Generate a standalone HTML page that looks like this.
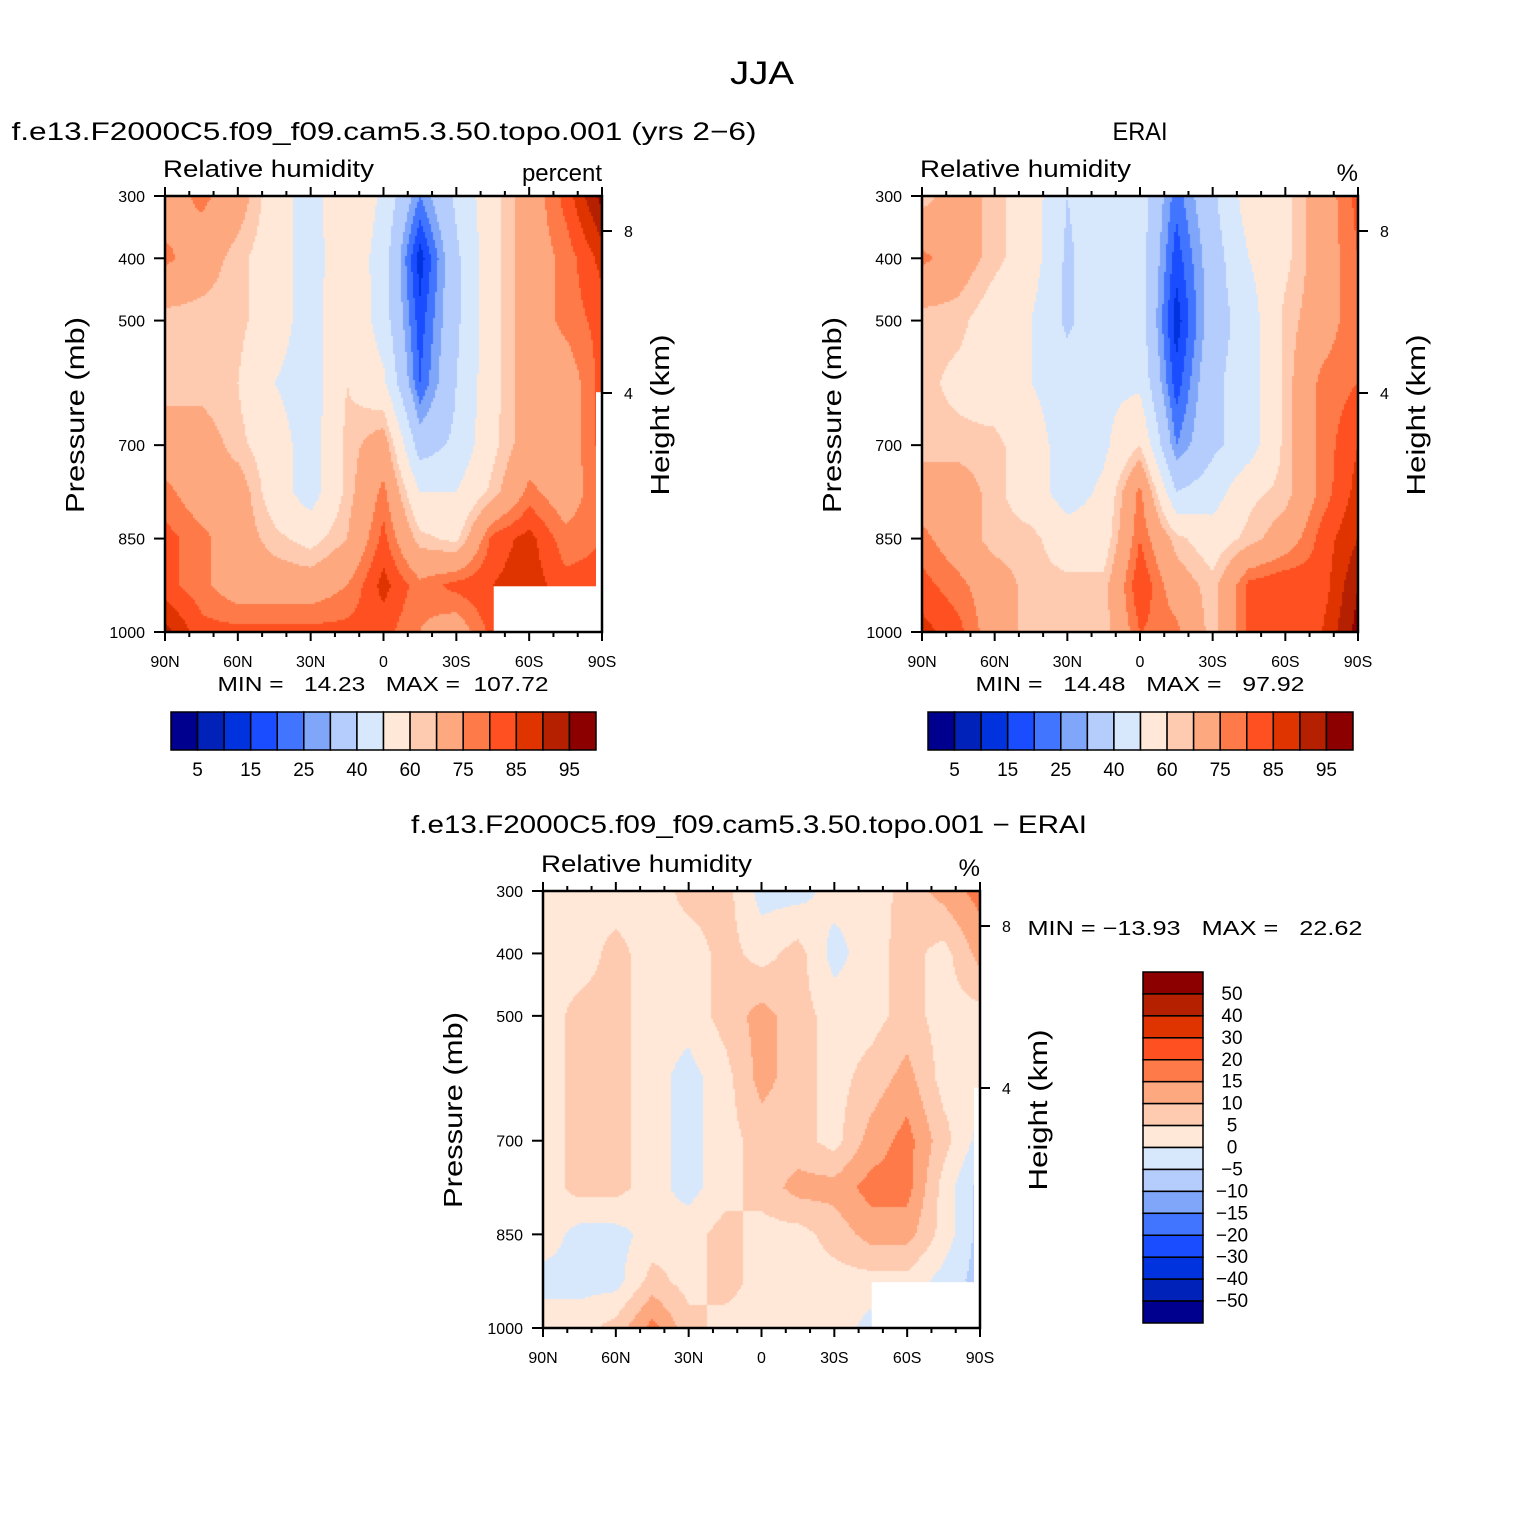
<!DOCTYPE html>
<html><head><meta charset="utf-8">
<style>
body{margin:0;background:#fff;}
#wrap{position:relative;width:1524px;height:1524px;overflow:hidden;font-family:"Liberation Sans","DejaVu Sans",sans-serif;}
canvas{position:absolute;}
svg{position:absolute;left:0;top:0;}
</style></head>
<body>
<div id="wrap">
<canvas id="c1" style="left:165px;top:196px" width="437" height="436"></canvas>
<canvas id="c2" style="left:922px;top:196px" width="436" height="436"></canvas>
<canvas id="c3" style="left:543px;top:891px" width="437" height="437"></canvas>
<svg id="svg" width="1524" height="1524"></svg>
</div>
<script>
// ---- data ----
const latLabels = ["90N","60N","30N","0","30S","60S","90S"];
const lats = [90,75,60,45,30,15,0,-15,-30,-45,-60,-75,-90];
const pLevels = [300,400,500,600,700,775,850,925,1000];
const pTicks = [300,400,500,700,850,1000];
const rhLevels = [5,10,15,20,25,30,40,50,60,65,75,80,85,90,95];
const rhTickLabels = ["5","15","25","40","60","75","85","95"];
const diffLevels = [-50,-40,-30,-20,-15,-10,-5,0,5,10,15,20,30,40,50];
const colors = ["#00008f","#0022b8","#0033dd","#1a4dff","#4275ff","#80a6fa","#b4cdfc","#d8e8fc","#ffe8d8","#fecab0","#fea880","#fe7a48","#fe5020","#e03400","#b42000","#8c0000"];
const modelRH = [
[70,77,70,55,45,60,48,25,42,57,70,82,97],
[77,70,62,55,45,58,45,12,38,57,70,77,87],
[62,62,62,55,45,60,45,17,38,57,70,77,82],
[62,62,60,50,45,60,52,20,40,57,70,70,82],
[70,70,62,55,45,62,70,35,42,58,70,70,82],
[77,70,70,55,45,62,77,50,50,62,77,70,80],
[82,77,70,62,57,65,82,62,58,82,87,77,80],
[82,77,70,70,70,75,87,77,82,85,88,82,82],
[92,82,82,82,82,82,82,75,70,82,82,82,82]];
const eraiRH = [
[62,70,62,55,40,48,45,22,38,55,58,70,82],
[77,70,62,55,38,48,45,17,35,50,58,70,80],
[62,62,55,50,38,48,45,12,35,45,62,70,80],
[62,58,55,50,45,48,48,17,38,45,62,77,80],
[62,62,62,55,45,48,60,25,38,45,62,77,85],
[70,70,62,55,45,52,77,40,45,58,62,77,87],
[77,70,62,62,55,55,80,62,55,62,70,82,90],
[82,77,70,62,62,62,85,70,62,82,85,82,95],
[87,82,70,62,62,62,80,77,62,82,82,85,97]];
const diffRH = [
[3,3,2,2,7,7,-2,-2,2,2,7,12,17],
[2,2,7,2,2,7,3,7,-2,3,7,3,12],
[2,7,7,2,2,7,12,7,3,3,7,3,3],
[2,7,7,2,-2,3,12,7,3,7,12,3,3],
[2,7,7,2,-2,3,7,7,3,12,17,7,-2],
[2,7,7,2,-2,3,7,12,12,17,17,3,-7],
[3,-2,-2,2,3,7,3,3,7,12,12,3,-7],
[-2,-2,-2,7,3,7,3,3,3,3,3,-2,-7],
[3,3,7,17,7,3,3,3,3,-2,3,3,3]];

// ---- helpers ----
const NS="http://www.w3.org/2000/svg";
const svg=document.getElementById('svg');
function el(tag,attrs,txt){const e=document.createElementNS(NS,tag);for(const k in attrs)e.setAttribute(k,attrs[k]);if(txt!==undefined)e.textContent=txt;svg.appendChild(e);return e;}
function colorFor(v,levels){let i=0;while(i<levels.length&&v>=levels[i])i++;return colors[i];}
function sample(grid,lat,p){
  let j=0;while(j<lats.length-2&&lat<lats[j+1])j++;
  const tx=(lats[j]-lat)/(lats[j]-lats[j+1]);
  let i=0;while(i<pLevels.length-2&&p>pLevels[i+1])i++;
  const ty=(p-pLevels[i])/(pLevels[i+1]-pLevels[i]);
  const a=grid[i][j],b=grid[i][j+1],c=grid[i+1][j],d=grid[i+1][j+1];
  return (a*(1-tx)+b*tx)*(1-ty)+(c*(1-tx)+d*tx)*ty;
}
function drawField(id,grid,levels,w,h){
  const ctx=document.getElementById(id).getContext('2d');
  const s=2;
  for(let y=0;y<h;y+=s){for(let x=0;x<w;x+=s){
    const lat=90-180*(x+s/2)/w, p=300+700*(y+s/2)/h;
    ctx.fillStyle=colorFor(sample(grid,lat,p),levels);ctx.fillRect(x,y,s,s);}}
}
drawField('c1',modelRH,rhLevels,437,436);
drawField('c2',eraiRH,rhLevels,436,436);
drawField('c3',diffRH,diffLevels,437,437);

function panel(x0,y0,w,h,unit,pfx){
  const X=lat=>x0+(90-lat)/180*w, Y=p=>y0+(p-300)/700*h;
  if(pfx!=='erai'){
    let r=el('rect',{x:X(-45)+1,y:Y(925)+1,width:X(-90)-X(-45)-2,height:Y(1000)-Y(925)-2,fill:'#fff'});
    
    r=el('rect',{x:x0+w-6,y:Y(615),width:6,height:Y(1000)-Y(615),fill:'#fff'});
    
  }
  const f=el('rect',{x:x0,y:y0,width:w,height:h,fill:'none',stroke:'#000','stroke-width':2.5});
  
  for(let lat=90;lat>=-90;lat-=10){
    const major=lat%30===0, L=major?9:5, x=X(lat);
    el('line',{x1:x,y1:y0,x2:x,y2:y0-L,stroke:'#000','stroke-width':2});
    el('line',{x1:x,y1:y0+h,x2:x,y2:y0+h+L,stroke:'#000','stroke-width':2});
  }
  latLabels.forEach((t,i)=>{const e=el('text',{x:X(90-30*i),y:y0+h+35,'font-size':16,'text-anchor':'middle'},t);
    });
  pTicks.forEach(p=>{const y=Y(p);el('line',{x1:x0,y1:y,x2:x0-11,y2:y,stroke:'#000','stroke-width':2});
    const e=el('text',{x:x0-20,y:y+6,'font-size':16,'text-anchor':'end'},String(p));
    });
  [[8,35],[4,197]].forEach(([k,dy])=>{el('line',{x1:x0+w,y1:y0+dy,x2:x0+w+10,y2:y0+dy,stroke:'#000','stroke-width':2});
    const e=el('text',{x:x0+w+22,y:y0+dy+6,'font-size':16},String(k));
    });
  let e=el('text',{x:x0-2,y:y0-19,'font-size':24,textLength:211,lengthAdjust:'spacingAndGlyphs'},'Relative humidity');
  
  e=el('text',{x:x0+w,y:y0-15,'font-size':24,'text-anchor':'end'},unit);
  
  e=el('text',{x:0,y:0,'font-size':26,'text-anchor':'middle',textLength:196,lengthAdjust:'spacingAndGlyphs',transform:`translate(${x0-81},${y0+219}) rotate(-90)`},'Pressure (mb)');
  
  e=el('text',{x:0,y:0,'font-size':26,'text-anchor':'middle',textLength:161,lengthAdjust:'spacingAndGlyphs',transform:`translate(${x0+w+67},${y0+219}) rotate(-90)`},'Height (km)');
  
}
panel(165,196,437,436,'percent','model');
panel(922,196,436,436,'%','erai');
panel(543,891,437,437,'%','diff');

function hbar(x0,y0,pfx){
  const bw=425/16;
  colors.forEach((c,i)=>{const r=el('rect',{x:x0+i*bw,y:y0,width:bw,height:38,fill:c,stroke:'#000','stroke-width':1.5});
    });
  rhTickLabels.forEach((t,k)=>{const e=el('text',{x:x0+(2*k+1)*bw,y:y0+64,'font-size':19,'text-anchor':'middle'},t);
    });
}
hbar(171,712,'model');
hbar(928,712,'erai');
const vbh=351/16;
colors.slice().reverse().forEach((c,i)=>{const r=el('rect',{x:1143,y:972+i*vbh,width:60,height:vbh,fill:c,stroke:'#000','stroke-width':1.5});
  });
diffLevels.slice().reverse().forEach((v,i)=>{const e=el('text',{x:1232,y:972+(i+1)*vbh+6,'font-size':19,'text-anchor':'middle'},String(v).replace('-','\u2212'));
  });

const texts=[
 ['figure-title',762,84,32,'JJA',64],
 ['model-title',384,140,25,'f.e13.F2000C5.f09_f09.cam5.3.50.topo.001 (yrs 2\u22126)',745],
 ['erai-title',1140,140,25,'ERAI',55],
 ['diff-title',749,833,25,'f.e13.F2000C5.f09_f09.cam5.3.50.topo.001 \u2212 ERAI',676],
 ['model-min-max',383,691,20,'MIN =   14.23   MAX =  107.72',331],
 ['erai-min-max',1140,691,20,'MIN =   14.48   MAX =   97.92',329],
 ['diff-min-max',1195,935,20,'MIN = \u221213.93   MAX =   22.62',335]];
texts.forEach(t=>{const e=el('text',{x:t[1],y:t[2],'font-size':t[3],'text-anchor':'middle',textLength:t[5],lengthAdjust:'spacingAndGlyphs','xml:space':'preserve',style:'white-space:pre'},t[4]);
  });
</script>
</body></html>
